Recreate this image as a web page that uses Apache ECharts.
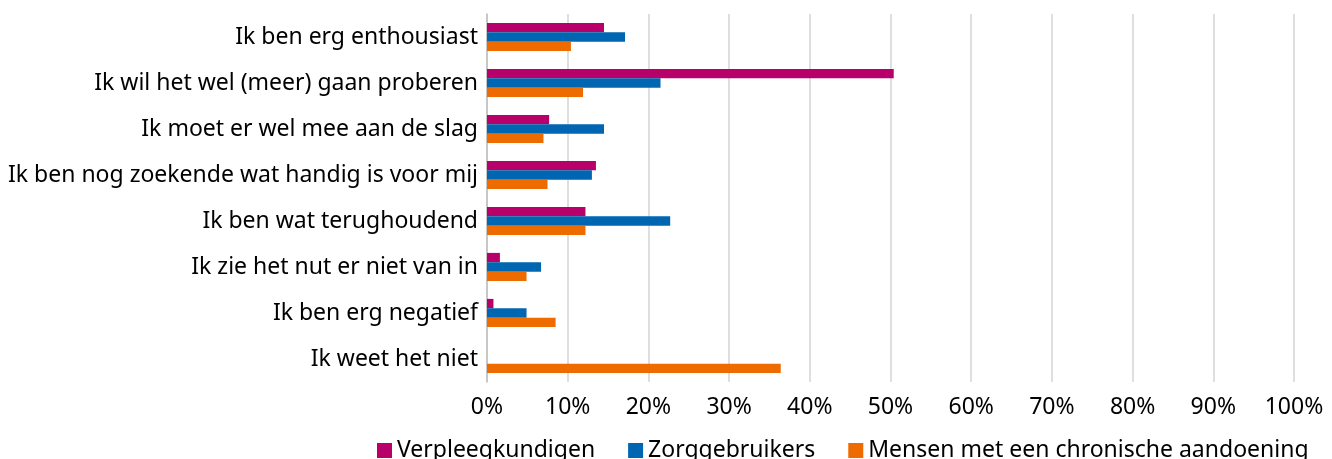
<!DOCTYPE html>
<html>
<head>
<meta charset="utf-8">
<script src="https://cdn.jsdelivr.net/npm/echarts@6/dist/echarts.min.js"></script>
<style>
  html, body { margin: 0; padding: 0; background: #fff; }
  #chart { width: 1332px; height: 459px; }
</style>
</head>
<body>
<div id="chart"></div>
<script>
  // categorieën, van boven naar onder
  var categories = [
    'Ik ben erg enthousiast',
    'Ik wil het wel (meer) gaan proberen',
    'Ik moet er wel mee aan de slag',
    'Ik ben nog zoekende wat handig is voor mij',
    'Ik ben wat terughoudend',
    'Ik zie het nut er niet van in',
    'Ik ben erg negatief',
    'Ik weet het niet'
  ];
  var seriesNames = ['Verpleegkundigen', 'Zorggebruikers', 'Mensen met een chronische aandoening'];
  var verpleegkundigen = [14.5, 50.4, 7.7, 13.5, 12.2, 1.6, 0.8, 0];
  var zorggebruikers = [17.1, 21.5, 14.5, 13.0, 22.7, 6.7, 4.9, 0];
  var chronisch = [10.4, 11.9, 7.0, 7.5, 12.2, 4.9, 8.5, 36.4];
  var colors = ['#B8006A', '#0066B2', '#EE6B00'];

  var font = '"Noto Sans", sans-serif';
  var values = [verpleegkundigen, zorggebruikers, chronisch];

  var chart = echarts.init(document.getElementById('chart'), null, { renderer: 'canvas' });
  chart.setOption({
    animation: false,
    textStyle: { fontFamily: font },
    grid: { left: 487, right: 38, top: 14, bottom: 77, containLabel: false },
    legend: {
      left: 372,
      top: 434,
      itemWidth: 15,
      itemHeight: 15,
      itemGap: 33,
      icon: 'rect',
      textStyle: { fontSize: 23, color: '#000', fontFamily: font },
      data: seriesNames
    },
    xAxis: {
      type: 'value',
      min: 0,
      max: 100,
      interval: 10,
      axisLine: { show: false },
      axisTick: { show: false },
      splitLine: { lineStyle: { color: '#d4d4d4', width: 1.5 } },
      axisLabel: { formatter: '{value}%', fontSize: 23, color: '#000', margin: 14 }
    },
    yAxis: {
      type: 'category',
      inverse: true,
      data: categories,
      axisLine: { show: true, lineStyle: { color: '#bfbfbf', width: 1.5 } },
      axisTick: { show: false },
      axisLabel: { fontSize: 23, color: '#000', margin: 9 }
    },
    series: values.map(function (v, i) {
      return {
        name: seriesNames[i],
        type: 'bar',
        data: v,
        barWidth: 9.4,
        barGap: '0%',
        itemStyle: { color: colors[i] }
      };
    })
  });
</script>
</body>
</html>
